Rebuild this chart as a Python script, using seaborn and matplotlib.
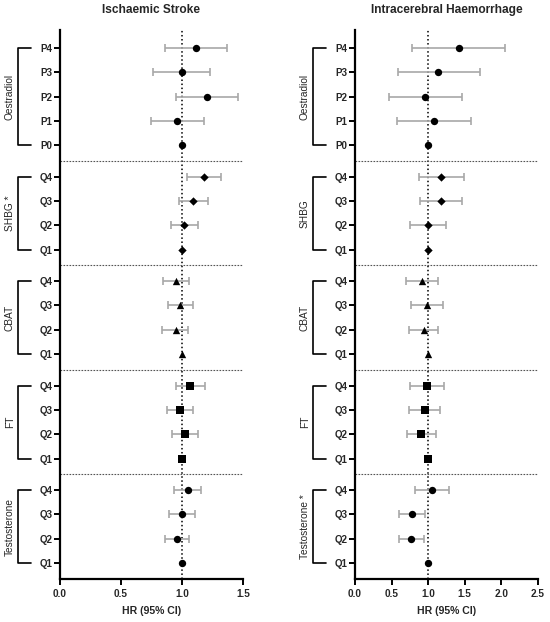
import numpy as np
import pandas as pd
import matplotlib
matplotlib.use("Agg")
import matplotlib.pyplot as plt
import seaborn as sns
from matplotlib.transforms import blended_transform_factory

# Categories
groups = ["Oestradiol", "SHBG", "CBAT", "FT", "Testosterone"]
oestradiol_levels = ["P4", "P3", "P2", "P1", "P0"]
quartile_levels = ["Q4", "Q3", "Q2", "Q1"]
group_markers = ["o", "D", "^", "s", "o"]

is_group_labels = ["Oestradiol", "SHBG *", "CBAT", "FT", "Testosterone"]
ich_group_labels = ["Oestradiol", "SHBG", "CBAT", "FT", "Testosterone *"]

# Ischaemic stroke: HR and 95% CI (rows follow groups / levels top to bottom)
is_hr = [1.115, 1.0, 1.205, 0.962, 1.0,
         1.18, 1.09, 1.014, 1.0,
         0.948, 0.986, 0.951, 1.0,
         1.068, 0.986, 1.025, 1.0,
         1.046, 1.003, 0.959, 1.0]
is_lo = [0.858, 0.765, 0.953, 0.748, 1.0,
         1.044, 0.975, 0.907, 1.0,
         0.842, 0.883, 0.839, 1.0,
         0.953, 0.874, 0.92, 1.0,
         0.934, 0.896, 0.863, 1.0]
is_hi = [1.369, 1.23, 1.456, 1.18, 1.0,
         1.322, 1.216, 1.128, 1.0,
         1.055, 1.087, 1.046, 1.0,
         1.186, 1.087, 1.128, 1.0,
         1.158, 1.107, 1.057, 1.0]

# Intracerebral haemorrhage
ich_hr = [1.414, 1.137, 0.96, 1.073, 1.0,
          1.173, 1.173, 0.991, 1.0,
          0.91, 0.978, 0.937, 1.0,
          0.982, 0.955, 0.9, 1.0,
          1.046, 0.773, 0.768, 1.0]
ich_lo = [0.778, 0.587, 0.464, 0.573, 1.0,
          0.873, 0.891, 0.746, 1.0,
          0.691, 0.764, 0.737, 1.0,
          0.75, 0.741, 0.714, 1.0,
          0.818, 0.6, 0.596, 1.0]
ich_hi = [2.056, 1.705, 1.464, 1.578, 1.0,
          1.483, 1.46, 1.246, 1.0,
          1.132, 1.196, 1.137, 1.0,
          1.218, 1.164, 1.10, 1.0,
          1.278, 0.955, 0.937, 1.0]

GAP = 1.3  # spacing between groups, in rows


def build_frame(hr, lo, hi):
    rows = []
    pos = 0.0
    i = 0
    for g, m in zip(groups, group_markers):
        levels = oestradiol_levels if g == "Oestradiol" else quartile_levels
        for lev in levels:
            rows.append(dict(group=g, level=lev, marker=m, pos=pos,
                             hr=hr[i], lo=lo[i], hi=hi[i]))
            pos += 1
            i += 1
        pos += GAP - 1
    return pd.DataFrame(rows)


def draw_panel(ax, df, title, group_labels, xmax):
    ax.axvline(1.0, color="black", ls=":", lw=1.1, zorder=1)

    # separators between groups
    for g_prev, g_next in zip(groups[:-1], groups[1:]):
        y = (df.loc[df.group == g_prev, "pos"].max() + df.loc[df.group == g_next, "pos"].min()) / 2
        ax.axhline(y, color="#555555", ls=(0, (1.5, 1.2)), lw=0.8, zorder=1)

    ci = df[df.hi > df.lo]
    ax.errorbar(ci.hr, ci.pos, xerr=[ci.hr - ci.lo, ci.hi - ci.hr], fmt="none",
                ecolor="#a8a8a8", elinewidth=1.2, capsize=3, capthick=1.2, zorder=2)

    sizes = {"o": 28, "D": 18, "^": 28, "s": 30}
    for m in dict.fromkeys(group_markers):
        sub = df[df.marker == m]
        sns.scatterplot(data=sub, x="hr", y="pos", marker=m, s=sizes[m],
                        color="black", edgecolor="black", linewidth=0,
                        ax=ax, zorder=3, legend=False)

    ax.set_ylim(df.pos.max() + 0.66, -0.74)
    ax.set_xlim(0, xmax)
    ax.set_xticks(np.arange(0, xmax + 0.01, 0.5))
    ax.set_xticklabels([f"{t:.1f}" for t in np.arange(0, xmax + 0.01, 0.5)],
                       fontweight="bold", fontsize=7.2)
    ax.set_yticks(df.pos)
    ax.set_yticklabels(df.level, fontweight="bold", fontsize=7)
    ax.set_xlabel("HR (95% CI)", fontweight="bold", fontsize=7.6, labelpad=5)
    ax.set_ylabel("")
    ax.set_title(title, fontweight="bold", fontsize=8.6, pad=12)
    ax.tick_params(axis="both", length=4, width=1.4, pad=1.5, color="black")
    ax.tick_params(axis="x", pad=3)

    sns.despine(ax=ax)
    for s in ["left", "bottom"]:
        ax.spines[s].set_linewidth(1.6)
        ax.spines[s].set_color("black")

    # brackets with group names
    trans = blended_transform_factory(ax.transAxes, ax.transData)
    bx, tx, lx = -0.232, -0.158, -0.275
    for g, lab in zip(groups, group_labels):
        sub = df[df.group == g]
        top, bot = sub.pos.min(), sub.pos.max()
        ax.plot([tx, bx, bx, tx], [top, top, bot, bot], color="black", lw=1.2,
                transform=trans, clip_on=False)
        ax.text(lx, (top + bot) / 2, lab, rotation=90, ha="center", va="center",
                fontsize=7.3, transform=trans)


sns.set_style("ticks")
plt.rcParams["font.family"] = ["Liberation Sans", "DejaVu Sans"]

fig = plt.figure(figsize=(5.5, 6.22), dpi=100)
ax1 = fig.add_axes([60 / 550, 43 / 622, 183 / 550, 549 / 622])
ax2 = fig.add_axes([355 / 550, 43 / 622, 183 / 550, 549 / 622])

draw_panel(ax1, build_frame(is_hr, is_lo, is_hi), "Ischaemic Stroke", is_group_labels, 1.5)
draw_panel(ax2, build_frame(ich_hr, ich_lo, ich_hi), "Intracerebral Haemorrhage", ich_group_labels, 2.5)

fig.savefig("out.png", dpi=100, facecolor="white")
